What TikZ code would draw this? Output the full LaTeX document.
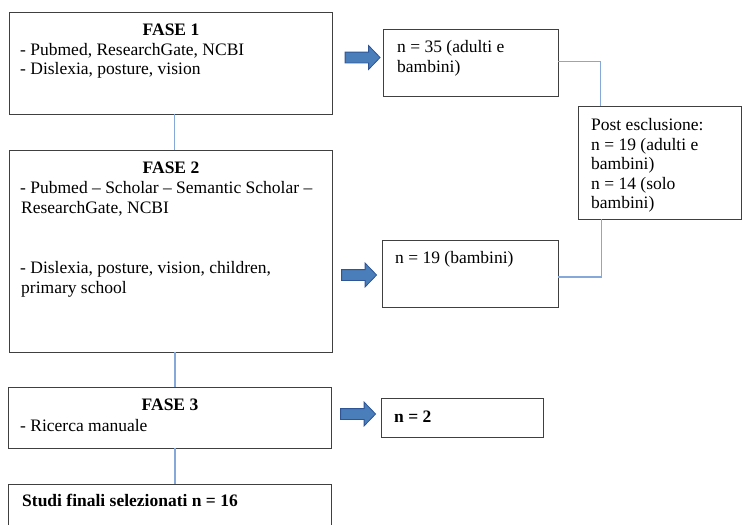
\documentclass[tikz,border=0pt]{standalone}
\usepackage{fontspec}
\setmainfont{Liberation Serif}
\usetikzlibrary{shapes.arrows}
\definecolor{boxline}{HTML}{404040}
\definecolor{conn}{HTML}{86A8D8}
\definecolor{arrfill}{HTML}{4A7EBB}
\definecolor{arrdraw}{HTML}{2F5597}
\begin{document}
\begin{tikzpicture}[x=1pt,y=-1pt,
  box/.style={draw=boxline,line width=0.9pt,rectangle,inner sep=0pt},
  txt/.style={anchor=base west,inner sep=0pt,font=\fontsize{17.5}{19.5}\selectfont,text=black},
  ttl/.style={anchor=base,inner sep=0pt,font=\fontsize{17.5}{19.5}\selectfont\bfseries,text=black},
  link/.style={draw=conn,line width=1.4pt},
  barrow/.style={single arrow,fill=arrfill,draw=arrdraw,line width=0.8pt,
    minimum height=35pt,inner sep=5pt,single arrow head extend=6.5pt,
    single arrow tip angle=92}
]
\useasboundingbox (0,0) rectangle (742,525);
\begin{scope}
\clip (0,0) rectangle (742,525);
% boxes
\node[box,minimum width=323pt,minimum height=102pt] (f1) at (170.5,63) {};
\node[box,minimum width=323pt,minimum height=202pt] (f2) at (170.5,251) {};
\node[box,minimum width=323pt,minimum height=61pt] (f3) at (169.5,417.5) {};
\node[box,minimum width=323pt,minimum height=60pt] (fin) at (169.5,514) {};
\node[box,minimum width=175pt,minimum height=67pt] (b35) at (470.5,62.5) {};
\node[box,minimum width=176pt,minimum height=67pt] (b19) at (470,273.5) {};
\node[box,minimum width=163.5pt,minimum height=113pt] (post) at (659.75,162.5) {};
\node[box,minimum width=162pt,minimum height=39pt] (b2) at (462,417.5) {};

% connectors
\draw[link] ([xshift=4pt]f1.south) -- ([xshift=4pt]f2.north);
\draw[link] ([xshift=4.5pt]f2.south) -- ([xshift=5.5pt]f3.north);
\draw[link] ([xshift=5.5pt]f3.south) -- ([xshift=5.5pt]fin.north);
\draw[link] ([yshift=1pt]b35.east) -| ([xshift=-59pt]post.north);
\draw[link] ([xshift=-58pt]post.south) |- ([yshift=-3.5pt]b19.east);

% block arrows
\node[barrow] (a1) at (360,57.5) {};
\node[barrow] (a2) at (356.5,275) {};
\node[barrow] (a3) at (355.5,414) {};

% texts
\node[ttl] (t1) at (171,35) {FASE 1};
\node[txt] (t1a) at (20,55) {- Pubmed, ResearchGate, NCBI};
\node[txt] (t1b) at (20,74.5) {- Dislexia, posture, vision};

\node[ttl] (t2) at (171,173) {FASE 2};
\node[txt] (t2a) at (20,193) {- Pubmed – Scholar – Semantic Scholar –};
\node[txt] (t2b) at (21,213) {ResearchGate, NCBI};
\node[txt] (t2c) at (20,273) {- Dislexia, posture, vision, children,};
\node[txt] (t2d) at (21,293) {primary school};

\node[ttl] (t3) at (170,410) {FASE 3};
\node[txt] (t3a) at (20,431) {- Ricerca manuale};

\node[txt,font=\fontsize{17.5}{19.5}\selectfont\bfseries] (tf) at (22,506) {Studi finali selezionati n = 16};

\node[txt] (n35a) at (397,52) {n = 35 (adulti e};
\node[txt] (n35b) at (397,72) {bambini)};
\node[txt] (n19) at (395,263) {n = 19 (bambini)};
\node[txt,font=\fontsize{17.5}{19.5}\selectfont\bfseries] (n2) at (394,422) {n = 2};

\node[txt] (p1) at (591,130) {Post esclusione:};
\node[txt] (p2) at (591,150) {n = 19 (adulti e};
\node[txt] (p3) at (591,169.5) {bambini)};
\node[txt] (p4) at (591,189) {n = 14 (solo};
\node[txt] (p5) at (591,208.5) {bambini)};
\end{scope}
\end{tikzpicture}
\end{document}
